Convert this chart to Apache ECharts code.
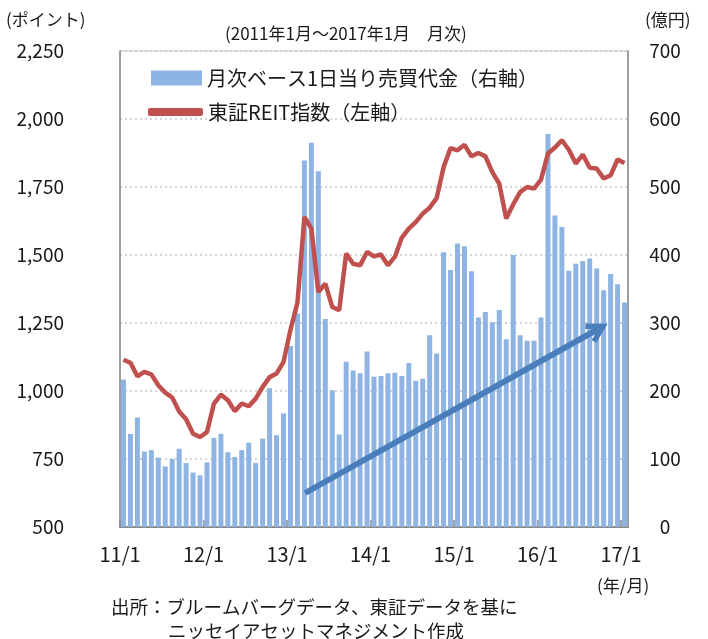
<!DOCTYPE html>
<html>
<head>
<meta charset="utf-8">
<script src="https://cdn.jsdelivr.net/npm/echarts@6/dist/echarts.min.js"></script>
<style>
  html, body { margin: 0; padding: 0; background: #fff; }
  #chart { width: 708px; height: 639px; }
</style>
</head>
<body>
<div id="chart"></div>
<script>
// 2011/1 - 2017/1, monthly (73 months)
const yearTicks = ['11/1', '12/1', '13/1', '14/1', '15/1', '16/1', '17/1']

// 月次ベース1日当り売買代金 (億円, right axis)
const turnover = [
  217, 137, 161, 111, 113, 102, 89, 100, 115, 94, 80, 76,
  95, 131, 137, 110, 103, 113, 124, 94, 130, 204, 135, 167,
  266, 314, 539, 565, 523, 306, 201, 136, 243, 230, 226, 258,
  221, 222, 226, 227, 222, 241, 215, 218, 282, 255, 404, 378,
  417, 413, 376, 308, 316, 301, 319, 276, 400, 282, 274, 274,
  308, 578, 458, 441, 377, 387, 391, 395, 380, 348, 372, 357,
  330
]

// 東証REIT指数 (ポイント, left axis)
const reitIndex = [
  1115, 1104, 1054, 1070, 1061, 1021, 994, 976, 925, 896, 843, 831,
  849, 954, 987, 966, 926, 954, 944, 972, 1015, 1051, 1064, 1107,
  1225, 1325, 1640, 1597, 1364, 1395, 1309, 1297, 1505, 1468, 1462, 1511,
  1495, 1502, 1462, 1493, 1564, 1597, 1621, 1652, 1674, 1709, 1823, 1893,
  1885, 1905, 1863, 1875, 1863, 1805, 1762, 1634, 1686, 1731, 1750, 1744,
  1777, 1873, 1895, 1922, 1887, 1836, 1869, 1821, 1818, 1781, 1793, 1851,
  1838
]

// trend arrow, [month, 億円]
const arrowFrom = [26.6, 50]
const arrowTo = [68.7, 291]

const barName = '月次ベース1日当り売買代金（右軸）'
const lineName = '東証REIT指数（左軸）'
const font = '"Noto Sans CJK JP", "Noto Sans", sans-serif'
const txt = '#1a1a1a'

const barData = turnover.map((v, i) => [i + 0.5, v])
const lineData = reitIndex.map((v, i) => [i + 0.5, v])

function note(text, left, top, size) {
  return { text: text, left: left, top: top, textStyle: { fontSize: size, fontWeight: 'normal', color: txt, fontFamily: font } }
}

const chart = echarts.init(document.getElementById('chart'))
chart.setOption({
  animation: false,
  textStyle: { fontFamily: font, color: txt },
  grid: {
    left: 120, right: 80, top: 51, bottom: 112,
    show: true, borderColor: '#c4c4c4', borderWidth: 1
  },
  title: [
    note('(ポイント)', 1, 6, 17),
    note('(億円)', 640, 6, 17),
    note('(2011年1月～2017年1月　月次)', 220, 20, 17),
    note('(年/月)', 592, 572, 17),
    note('出所：ブルームバーグデータ、東証データを基に', 106, 593, 18.5),
    note('ニッセイアセットマネジメント作成', 163, 617, 18.5)
  ],
  legend: [
    {
      data: [{ name: barName, icon: 'rect' }],
      left: 146, top: 63, itemWidth: 51, itemHeight: 15, itemGap: 0,
      textStyle: { fontSize: 20, color: txt, fontFamily: font },
      selectedMode: false
    },
    {
      data: [{ name: lineName, icon: 'roundRect' }],
      left: 143, top: 97, itemWidth: 55, itemHeight: 8, itemGap: 0,
      textStyle: { fontSize: 20, color: txt, fontFamily: font },
      selectedMode: false
    }
  ],
  xAxis: {
    type: 'value', min: 0, max: 73, interval: 12,
    axisLine: { show: true, onZero: false, lineStyle: { color: '#8a8a8a', width: 2 } },
    axisTick: { show: true, inside: true, length: 7, lineStyle: { color: '#8a8a8a', width: 1.5 } },
    splitLine: { show: false },
    axisLabel: {
      fontSize: 20, color: txt, margin: 17, showMaxLabel: false,
      formatter: v => (v % 12 === 0 ? yearTicks[v / 12] : '')
    }
  },
  yAxis: [
    {
      type: 'value', min: 500, max: 2250, interval: 250, position: 'left',
      axisLine: { show: true, lineStyle: { color: '#8a8a8a', width: 1.5 } },
      axisTick: { show: false },
      splitLine: { show: true, lineStyle: { color: '#c8c8c8', type: [2, 3], width: 1.5 } },
      axisLabel: {
        fontSize: 19, color: txt, margin: 56,
        formatter: v => v.toLocaleString('en-US')
      }
    },
    {
      type: 'value', min: 0, max: 700, interval: 100, position: 'right',
      axisLine: { show: true, lineStyle: { color: '#8a8a8a', width: 1.5 } },
      axisTick: { show: false },
      splitLine: { show: false },
      axisLabel: { fontSize: 19, color: txt, margin: 37, align: 'center' }
    }
  ],
  series: [
    {
      name: barName,
      type: 'bar',
      yAxisIndex: 1,
      data: barData,
      barWidth: 5,
      itemStyle: { color: '#8db4e2' },
      markLine: {
        silent: true,
        symbol: ['none', 'path://M12,0 L24,21 L19,24 L12,11 L5,24 L0,21 Z'],
        symbolSize: [22, 22],
        label: { show: false },
        lineStyle: { color: '#4a7ebb', width: 6, type: 'solid' },
        data: [[{ coord: arrowFrom }, { coord: arrowTo }]]
      }
    },
    {
      name: lineName,
      type: 'line',
      yAxisIndex: 0,
      data: lineData,
      showSymbol: false,
      symbol: 'none',
      color: '#c0504d',
      lineStyle: { color: '#c0504d', width: 4.5 },
      z: 3
    }
  ]
})
</script>
</body>
</html>
